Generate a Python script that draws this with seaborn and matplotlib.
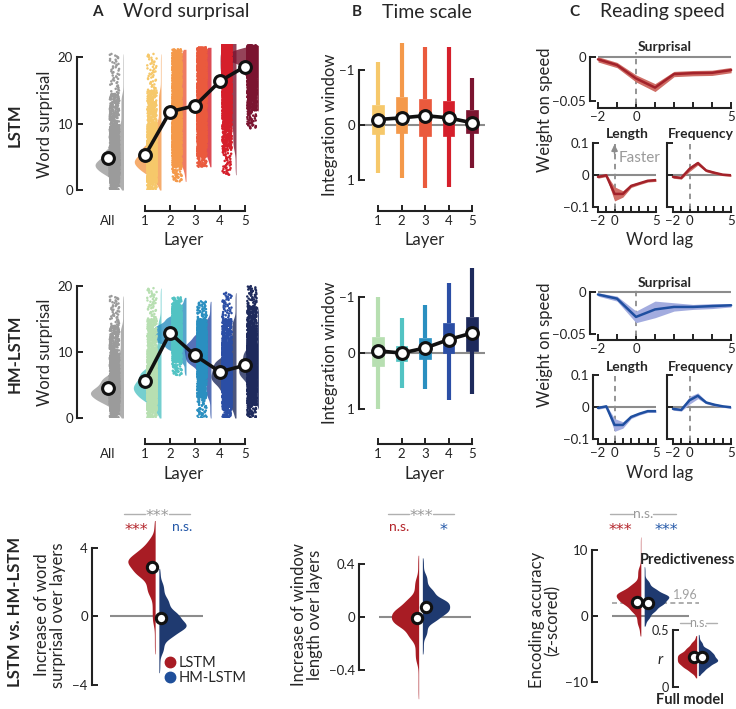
import numpy as np
import pandas as pd
import matplotlib
matplotlib.use("Agg")
import matplotlib.pyplot as plt
from matplotlib.lines import Line2D
import seaborn as sns

# ---------------- data ----------------
layer_labels = ["All", "1", "2", "3", "4", "5"]
layer_pos = [-0.5, 1, 2, 3, 4, 5]
quantile_probs = [0, 0.02, 0.10, 0.25, 0.50, 0.75, 0.90, 0.98, 1.0]

# word surprisal distributions (quantiles at quantile_probs)
lstm_surprisal_q = [
    [0, 1.0, 2.2, 3.2, 4.5, 6.5, 9.5, 14.5, 20.5],
    [0, 1.2, 2.5, 3.6, 5.0, 7.0, 10.0, 15.0, 20.5],
    [1.3, 3.5, 5.5, 8.5, 12.0, 15.5, 18.5, 20.5, 21.2],
    [3.5, 5.0, 7.0, 9.5, 12.8, 16.0, 19.0, 21.0, 21.5],
    [2.3, 6.0, 10.0, 13.5, 17.0, 19.5, 21.0, 21.8, 22.2],
    [9.3, 12.0, 14.5, 17.0, 19.2, 20.3, 21.0, 21.5, 21.8],
]
lstm_surprisal_mean = [4.8, 5.2, 11.8, 12.7, 16.4, 18.6]
hm_surprisal_q = [
    [0, 1.0, 2.2, 3.2, 4.5, 6.5, 9.5, 14.0, 18.5],
    [0, 1.2, 2.6, 3.8, 5.4, 7.5, 10.5, 15.0, 19.7],
    [6.5, 8.5, 10.2, 11.5, 12.8, 14.2, 15.5, 17.0, 18.3],
    [0, 3.0, 6.0, 8.0, 9.8, 11.5, 13.0, 15.0, 17.7],
    [0, 1.5, 3.5, 5.2, 7.0, 9.0, 11.5, 15.0, 19.0],
    [0, 2.0, 4.0, 6.0, 8.0, 10.5, 13.0, 17.0, 20.0],
]
hm_surprisal_mean = [4.6, 5.6, 12.9, 9.5, 7.0, 8.0]

# integration window box summaries (layers 1-5)
win_layers = [1, 2, 3, 4, 5]
lstm_win_min = [-1.15, -1.49, -1.41, -1.41, -0.85]
lstm_win_q1 = [-0.36, -0.51, -0.47, -0.44, -0.27]
lstm_win_mid = [-0.10, -0.13, -0.17, -0.13, -0.04]
lstm_win_q3 = [0.16, 0.15, 0.20, 0.20, 0.15]
lstm_win_max = [0.88, 0.97, 1.14, 1.12, 0.79]
hm_win_min = [-1.0, -0.62, -0.87, -1.26, -1.53]
hm_win_q1 = [-0.28, -0.13, -0.27, -0.53, -0.65]
hm_win_mid = [-0.04, 0.0, -0.09, -0.24, -0.36]
hm_win_q3 = [0.24, 0.15, 0.11, 0.0, -0.04]
hm_win_max = [1.0, 0.62, 0.65, 0.85, 0.73]

# reading speed weights
lags = [-2, -1, 0, 1, 2, 3, 4, 5]
lstm_surp_w = [-0.0023, -0.0088, -0.024, -0.0344, -0.019, -0.018, -0.0176, -0.0145]
lstm_surp_se = [0.003, 0.003, 0.004, 0.0045, 0.003, 0.003, 0.003, 0.003]
hm_surp_w = [-0.003, -0.008, -0.030, -0.021, -0.018, -0.018, -0.017, -0.016]
hm_surp_se = [0.002, 0.003, 0.007, 0.010, 0.005, 0.003, 0.003, 0.002]
lstm_len_w = [-0.005, 0.0, -0.058, -0.058, -0.033, -0.025, -0.017, -0.015]
lstm_len_se = [0.004, 0.004, 0.022, 0.010, 0.005, 0.004, 0.004, 0.004]
hm_len_w = [-0.002, 0.003, -0.055, -0.055, -0.030, -0.020, -0.012, -0.012]
hm_len_se = [0.004, 0.004, 0.020, 0.010, 0.005, 0.004, 0.004, 0.004]
lstm_freq_w = [-0.005, -0.008, 0.020, 0.038, 0.015, 0.008, 0.002, 0.0]
lstm_freq_se = [0.004, 0.004, 0.008, 0.006, 0.004, 0.004, 0.003, 0.003]
hm_freq_w = [-0.005, -0.008, 0.022, 0.036, 0.015, 0.008, 0.003, 0.0]
hm_freq_se = [0.004, 0.004, 0.012, 0.009, 0.004, 0.004, 0.003, 0.003]

# LSTM vs HM-LSTM comparison distributions (quantiles at quantile_probs)
models = ["LSTM", "HM-LSTM"]
surp_incr_q = [[-2.2, -0.5, 1.2, 2.3, 3.0, 3.5, 4.0, 4.6, 5.6],
               [-3.3, -2.2, -1.3, -0.8, -0.35, 0.3, 1.1, 2.0, 2.8]]
surp_incr_mean = [2.9, -0.1]
win_incr_q = [[-0.62, -0.35, -0.17, -0.07, 0.0, 0.07, 0.15, 0.30, 0.47],
              [-0.28, -0.15, -0.04, 0.02, 0.08, 0.14, 0.22, 0.33, 0.45]]
win_incr_mean = [-0.01, 0.08]
enc_q = [[-3.0, -1.5, 0.5, 1.8, 2.9, 3.8, 5.0, 7.5, 12.0],
         [-1.5, -0.5, 0.6, 1.6, 2.6, 3.4, 4.3, 5.5, 7.5]]
enc_mean = [2.1, 2.0]
full_r_q = [[0.08, 0.12, 0.16, 0.20, 0.25, 0.30, 0.35, 0.40, 0.45],
            [0.10, 0.13, 0.17, 0.21, 0.25, 0.30, 0.34, 0.40, 0.46]]
full_r_mean = [0.26, 0.26]

# ---------------- style ----------------
sns.set_theme(style="ticks")
plt.rcParams['font.family'] = ['Lato', 'DejaVu Sans']
plt.rcParams['axes.unicode_minus'] = True

lstm_colors = ["#9b9b9b", "#f6c86a", "#f4994a", "#ea5a3d", "#d51f2b", "#7b1430"]
hm_colors = ["#9b9b9b", "#b7dfb1", "#52c3c3", "#2a8fc0", "#2b4ea5", "#1e2a5c"]
RED, BLUE = "#a81c24", "#1f3a70"
RED_T, BLUE_T = "#b3242a", "#2458a8"
DARK = "#222222"
GRAY = "#8c8c8c"

W, H = 736, 709
fig = plt.figure(figsize=(W / 100, H / 100), dpi=100)


def add_ax(l, t, r, b):
    return fig.add_axes([l / W, 1 - b / H, (r - l) / W, (b - t) / H])


def ftext(x, y, s, **kw):
    kw.setdefault("ha", "center")
    kw.setdefault("va", "center")
    fig.text(x / W, 1 - y / H, s, **kw)


def expand(q, n=1200):
    return np.interp(np.linspace(0, 1, n), quantile_probs, q)


def base_style(ax):
    for s in ["top", "right"]:
        ax.spines[s].set_visible(False)
    for s in ["left", "bottom"]:
        ax.spines[s].set_linewidth(1.5)
        ax.spines[s].set_color(DARK)
    ax.tick_params(direction="in", length=4, width=1.4, labelsize=9.5,
                   colors=DARK, pad=3)
    ax.set_xlabel("")
    ax.set_ylabel("")
    ax.patch.set_alpha(0)


# ---------------- Panel A ----------------
def panel_A(ax, qs, means, colors, outward):
    frames = []
    for lab, p, q in zip(layer_labels, layer_pos, qs):
        frames.append(pd.DataFrame({"layer": lab, "pos": p, "val": expand(q, 2400)}))
    df = pd.concat(frames, ignore_index=True)
    df["vpos"] = df["pos"] - 0.06
    df["spos"] = df["pos"] + 0.28
    sns.violinplot(data=df, x="vpos", y="val", native_scale=True, split=True,
                   inner=None, cut=0, density_norm="area", width=1.4,
                   linewidth=0, color="gray", saturation=1, bw_adjust=0.8, ax=ax)
    centers = np.array(layer_pos) - 0.06
    for coll in list(ax.collections):
        v = coll.get_paths()[0].vertices
        i = int(np.argmin(np.abs(centers - v[:, 0].max())))
        coll.set_facecolor(colors[i])
        coll.set_alpha(0.8)
    np.random.seed(3)
    sns.stripplot(data=df, x="spos", y="val", hue="layer", hue_order=layer_labels,
                  palette=colors, native_scale=True, jitter=0.19, size=1.8,
                  linewidth=0, legend=False, ax=ax)
    sns.lineplot(x=layer_pos[1:], y=means[1:], color="#111111", lw=2.6, ax=ax,
                 marker="o", markersize=8.5, markerfacecolor="white",
                 markeredgecolor="#111111", markeredgewidth=2.2, zorder=6)
    sns.lineplot(x=layer_pos[:1], y=means[:1], color="#111111", ax=ax,
                 marker="o", markersize=8.5, markerfacecolor="white",
                 markeredgecolor="#111111", markeredgewidth=2.2, zorder=6)
    base_style(ax)
    ax.set_xlim(-1.72, 5.52)
    ax.set_ylim(0, 22)
    ax.spines["left"].set_bounds(0, 20)
    ax.spines["bottom"].set_bounds(1, 5)
    ax.spines["bottom"].set_position(("outward", outward))
    ax.set_yticks([0, 10, 20])
    ax.set_xticks(layer_pos)
    ax.set_xticklabels(layer_labels)
    ax.xaxis.get_major_ticks()[0].tick1line.set_visible(False)


axA1 = add_ax(77, 44, 258, 190)
panel_A(axA1, lstm_surprisal_q, lstm_surprisal_mean, lstm_colors, 15)
axA2 = add_ax(77, 273, 258, 418)
panel_A(axA2, hm_surprisal_q, hm_surprisal_mean, hm_colors, 18.5)


# ---------------- Panel B ----------------
def panel_B(ax, lo, q1, mid, q3, hi, colors, ylim, outward):
    ax.axhline(0, xmin=0.04, xmax=1, color=GRAY, lw=1.5, zorder=0)
    for L, a, b, c, d, e, col in zip(win_layers, lo, q1, mid, q3, hi, colors[1:]):
        dfl = pd.DataFrame({"layer": L, "val": [a, b, c, d, e]})
        sns.boxplot(data=dfl, x="layer", y="val", native_scale=True, color=col,
                    linecolor=col, saturation=1, width=0.5, whis=(0, 100),
                    showcaps=False, fliersize=0, linewidth=0.5,
                    whiskerprops=dict(linewidth=3.0, solid_capstyle="butt"),
                    medianprops=dict(linewidth=0), ax=ax)
    sns.lineplot(x=win_layers, y=mid, color="#111111", lw=2.6, ax=ax,
                 marker="o", markersize=8.5, markerfacecolor="white",
                 markeredgecolor="#111111", markeredgewidth=2.2, zorder=6)
    base_style(ax)
    ax.set_xlim(0.19, 5.55)
    ax.set_ylim(*ylim)
    ax.spines["left"].set_bounds(-1, 1)
    ax.spines["bottom"].set_bounds(1, 5)
    ax.spines["bottom"].set_position(("outward", outward))
    ax.set_yticks([-1, 0, 1])
    ax.set_yticklabels(["\u22121", "0", "1"])
    ax.set_xticks(win_layers)
    ax.set_xticklabels([str(v) for v in win_layers])


axB1 = add_ax(359, 37, 485, 191)
panel_B(axB1, lstm_win_min, lstm_win_q1, lstm_win_mid, lstm_win_q3, lstm_win_max,
        lstm_colors, (1.2, -1.6), 14.4)
axB2 = add_ax(359, 261, 485, 420)
panel_B(axB2, hm_win_min, hm_win_q1, hm_win_mid, hm_win_q3, hm_win_max,
        hm_colors, (1.2, -1.65), 17.3)


# ---------------- Panel C ----------------
def line_panel(ax, w, se, color, band, xlim, ylim, ybounds, yticks, yticklabels,
               xticklabels, outward):
    w = np.array(w)
    se = np.array(se)
    ax.hlines(0, lags[0], lags[-1], color=GRAY, lw=1.5, zorder=0)
    ax.axvline(0, color=GRAY, lw=1.3, ls=(0, (3, 2.5)), zorder=1)
    ax.fill_between(lags, w - se, w + se, color=band, lw=0, zorder=2)
    sns.lineplot(x=lags, y=w, color=color, lw=1.8, ax=ax, zorder=3)
    base_style(ax)
    ax.set_xlim(*xlim)
    ax.set_ylim(*ylim)
    ax.spines["left"].set_bounds(*ybounds)
    ax.spines["bottom"].set_bounds(lags[0], lags[-1])
    ax.spines["bottom"].set_position(("outward", outward))
    ax.set_yticks(yticks)
    ax.set_yticklabels(yticklabels)
    ax.set_xticks(lags)
    ax.set_xticklabels(xticklabels)
    ax.tick_params(axis="x", length=4, pad=2)


lab_s = ["\u22122", "", "0", "", "", "", "", "5"]
lab_l = ["\u22122", "", "0", "", "", "", "", "5"]
for (t_s, b_s, t_l, b_l, ws, ses, wl, sel, wf, sef, col, band) in [
        (52, 104, 140, 209, lstm_surp_w, lstm_surp_se, lstm_len_w, lstm_len_se,
         lstm_freq_w, lstm_freq_se, "#a3222a", "#cf6e66"),
        (287, 336, 372, 441, hm_surp_w, hm_surp_se, hm_len_w, hm_len_se,
         hm_freq_w, hm_freq_se, "#1f4fa0", "#a3acdf")]:
    axs = add_ax(590, t_s, 733, b_s)
    line_panel(axs, ws, ses, col, band, (-2.42, 5.1), (-0.053, 0.006),
               (-0.05, 0), [-0.05, 0], ["\u22120.05", "0"], lab_s, 3)
    axl = add_ax(593, t_l, 656, b_l)
    line_panel(axl, wl, sel, col, band, (-2.6, 5.0), (-0.105, 0.11),
               (-0.1, 0.1), [-0.1, 0, 0.1], ["\u22120.1", "0", "0.1"], lab_l, 2.5)
    axf = add_ax(667, t_l, 731, b_l)
    line_panel(axf, wf, sef, col, band, (-2.72, 5.0), (-0.105, 0.11),
               (-0.1, 0.1), [-0.1, 0, 0.1], ["", "", ""], lab_l, 2.5)
    axf.tick_params(axis="y", length=4)
    if t_s == 52:
        axl.annotate("", xy=(0, 0.105), xytext=(0, 0.06),
                     arrowprops=dict(arrowstyle="-|>", color=GRAY, lw=1.2,
                                     mutation_scale=9))
        axl.text(0.55, 0.055, "Faster", color="#9a9a9a", fontsize=11,
                 ha="left", va="center")

# ---------------- Bottom row ----------------
def split_violin(ax, qs, means, dx, width, gap):
    frames = [pd.DataFrame({"model": m, "val": expand(q)}) for m, q in zip(models, qs)]
    df = pd.concat(frames, ignore_index=True)
    sns.violinplot(data=df, y="val", hue="model", hue_order=models, split=True,
                   palette=[RED, BLUE], inner=None, cut=0, density_norm="width",
                   width=width, gap=gap, linewidth=0, saturation=1, legend=False,
                   bw_adjust=0.9, ax=ax)
    sns.scatterplot(x=dx, y=means, color="white", edgecolor="#111111",
                    linewidth=2.2, s=55, zorder=6, ax=ax, legend=False)
    base_style(ax)
    ax.spines["bottom"].set_visible(False)
    ax.tick_params(axis="x", bottom=False, labelbottom=False)


axD1 = add_ax(92, 500, 205, 700)
axD1.hlines(0, -0.47, 0.46, color=GRAY, lw=1.5, zorder=0)
split_violin(axD1, surp_incr_q, surp_incr_mean, [-0.05, 0.04], 0.62, 0.12)
axD1.set_xlim(-0.65, 0.48)
axD1.set_ylim(-4.9, 6.8)
axD1.spines["left"].set_bounds(-4, 4)
axD1.set_yticks([-4, 0, 4])
axD1.set_yticklabels(["\u22124", "0", "4"])
handles = [Line2D([], [], marker="o", ls="", color=RED, markersize=7.5),
           Line2D([], [], marker="o", ls="", color="#1f4f9a", markersize=7.5)]
axD1.legend(handles, models, loc="upper left", bbox_to_anchor=(163 / W, 1 - 656 / H),
            bbox_transform=fig.transFigure, frameon=False, fontsize=10.5,
            handletextpad=0.1, labelspacing=0.05, borderaxespad=0, handlelength=1.0,
            borderpad=0)

axD2 = add_ax(359, 500, 476, 700)
axD2.hlines(0, -0.415, 0.505, color=GRAY, lw=1.5, zorder=0)
split_violin(axD2, win_incr_q, win_incr_mean, [-0.035, 0.055], 0.62, 0.12)
axD2.set_xlim(-0.615, 0.555)
axD2.set_ylim(-0.63, 0.89)
axD2.spines["left"].set_bounds(-0.4, 0.4)
axD2.set_yticks([-0.4, 0, 0.4])
axD2.set_yticklabels(["\u22120.4", "0", "0.4"])

axD3 = add_ax(592, 500, 692, 700)
axD3.hlines(0, -0.305, 0.465, color=GRAY, lw=1.5, zorder=0)
axD3.hlines(1.96, -0.305, 0.56, color="#a0a0a0", lw=1.2, ls=(0, (3, 2)), zorder=0,
            clip_on=False)
split_violin(axD3, enc_q, enc_mean, [-0.055, 0.055], 0.56, 0.12)
axD3.set_xlim(-0.505, 0.495)
axD3.set_ylim(-12.7, 17.6)
axD3.spines["left"].set_bounds(-10, 10)
axD3.set_yticks([-10, 0, 10])
axD3.set_yticklabels(["\u221210", "0", "10"])
axD3.text(0.43, 2.3, "1.96", color="#a0a0a0", fontsize=9, ha="center", va="bottom",
          clip_on=False)

axD4 = add_ax(673, 615, 735, 695)
split_violin(axD4, full_r_q, full_r_mean, [-0.035, 0.045], 0.42, 0.08)
axD4.set_xlim(-0.245, 0.375)
axD4.set_ylim(-0.07, 0.63)
axD4.spines["left"].set_bounds(0, 0.5)
axD4.set_yticks([0, 0.5])
axD4.set_yticklabels(["0", "0.5"])
axD4.tick_params(labelsize=9)

# ---------------- texts ----------------
ftext(97, 12, "A", fontsize=11, fontweight="bold")
ftext(186, 12, "Word surprisal", fontsize=14)
ftext(357, 12, "B", fontsize=11, fontweight="bold")
ftext(427, 12, "Time scale", fontsize=14)
ftext(574, 12, "C", fontsize=11, fontweight="bold")
ftext(662, 12, "Reading speed", fontsize=14)

ftext(15, 125, "LSTM", fontsize=12, fontweight="bold", rotation=90)
ftext(15, 354, "HM-LSTM", fontsize=12, fontweight="bold", rotation=90)
ftext(15, 612, "LSTM vs. HM-LSTM", fontsize=12, fontweight="bold", rotation=90)

ftext(45, 124, "Word surprisal", fontsize=12, rotation=90)
ftext(45, 352, "Word surprisal", fontsize=12, rotation=90)
ftext(184, 240, "Layer", fontsize=12)
ftext(184, 474, "Layer", fontsize=12)
ftext(330, 125, "Integration window", fontsize=12, rotation=90)
ftext(330, 353, "Integration window", fontsize=12, rotation=90)
ftext(425, 240, "Layer", fontsize=12)
ftext(425, 474, "Layer", fontsize=12)

ftext(545, 110, "Weight on speed", fontsize=12, rotation=90)
ftext(545, 345, "Weight on speed", fontsize=12, rotation=90)
ftext(660, 240, "Word lag", fontsize=12)
ftext(660, 473, "Word lag", fontsize=12)
for yy_s, yy_l in [(47, 134), (283, 367)]:
    ftext(665, yy_s, "Surprisal", fontsize=10, fontweight="bold")
    ftext(627, yy_l, "Length", fontsize=10, fontweight="bold")
    ftext(701, yy_l, "Frequency", fontsize=10, fontweight="bold")

ftext(50, 615, "Increase of word\nsurprisal over layers", fontsize=12, rotation=90,
      multialignment="center", linespacing=1.0)
ftext(307, 615, "Increase of window\nlength over layers", fontsize=12, rotation=90,
      multialignment="center", linespacing=1.0)
ftext(545, 620, "Encoding accuracy\n(z-scored)", fontsize=12, rotation=90,
      multialignment="center", linespacing=1.0)
ftext(660, 660, "r", fontsize=11, style="italic")
ftext(688, 560, "Predictiveness", fontsize=10.5, fontweight="bold")
ftext(690, 700, "Full model", fontsize=10.5, fontweight="bold")


# significance annotations
def sig_bar(xc, y, x0, x1, label, size=10, half=11):
    if label == "***":
        ftext(xc, y + 2, label, fontsize=11.5, color="#9a9a9a",
              family=["DejaVu Sans"])
    else:
        ftext(xc, y, label, fontsize=size, color="#9a9a9a")
    fig.add_artist(Line2D([x0 / W, (xc - half) / W], [1 - y / H] * 2,
                          color="#b0b0b0", lw=1.0))
    fig.add_artist(Line2D([(xc + half) / W, x1 / W], [1 - y / H] * 2,
                          color="#b0b0b0", lw=1.0))


sig_bar(157, 514, 124, 190, "***", half=12)
sig_bar(421, 514, 388, 454, "***", half=12)
sig_bar(643, 514, 610, 676, "n.s.", half=10)
sig_bar(698, 623, 680, 717, "n.s.", size=9, half=8)
star = dict(fontsize=11.5, family=["DejaVu Sans"])
ftext(136, 531, "***", color=RED_T, **star)
ftext(182, 527, "n.s.", fontsize=10, color=BLUE_T)
ftext(399, 527, "n.s.", fontsize=10, color=RED_T)
ftext(444, 531, "*", color=BLUE_T, **star)
ftext(620, 531, "***", color=RED_T, **star)
ftext(666, 531, "***", color=BLUE_T, **star)

fig.savefig("out.png", dpi=100)
